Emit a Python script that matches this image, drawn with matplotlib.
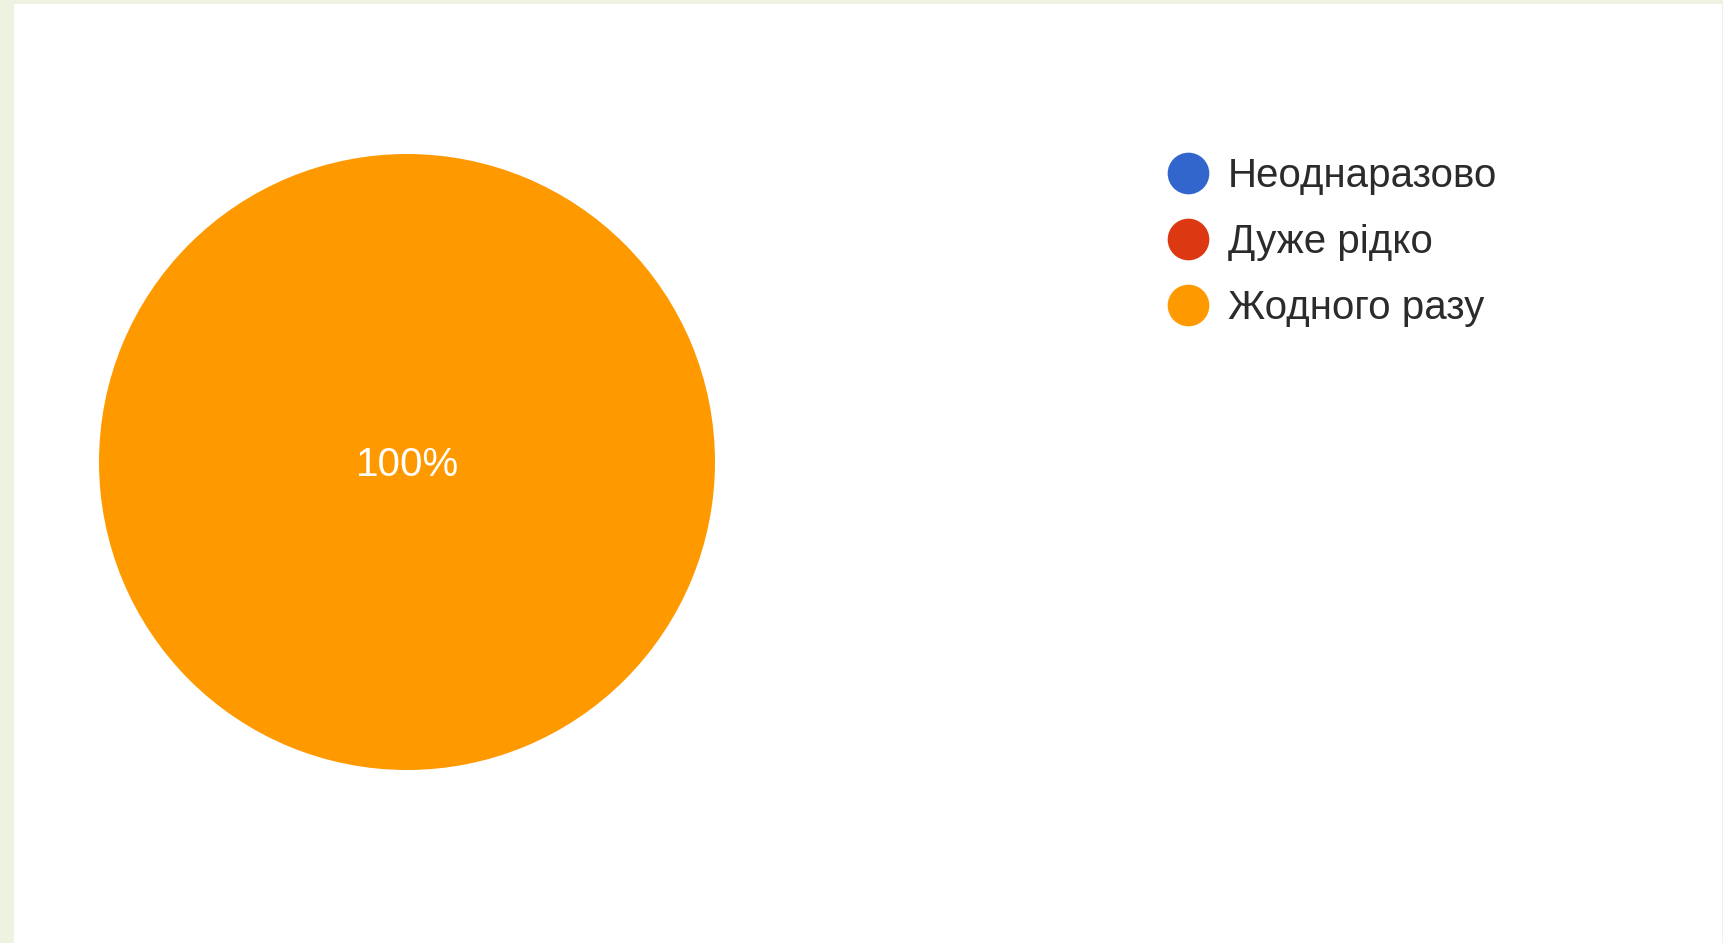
import matplotlib
matplotlib.use("Agg")
import matplotlib.pyplot as plt
from matplotlib.lines import Line2D
from matplotlib.patches import Rectangle

plt.rcParams["font.family"] = ["Liberation Sans", "DejaVu Sans"]

# data
labels = ["Неоднаразово", "Дуже рідко", "Жодного разу"]
values = [0, 0, 100]
colors = ["#3366cc", "#dc3912", "#ff9900"]

W, H, DPI = 1724, 943, 100
fig = plt.figure(figsize=(W / DPI, H / DPI), dpi=DPI, facecolor="#eef2e1")

# white slide panel
fig.patches.append(Rectangle((14 / W, 0), (1722 - 14) / W, (H - 4) / H,
                             transform=fig.transFigure, facecolor="white",
                             edgecolor="none", zorder=0))

# pie: centre (407, 462) px, radius 308 px
cx, cy, r = 407, 462, 308
ax = fig.add_axes([(cx - r) / W, (H - cy - r) / H, 2 * r / W, 2 * r / H])
ax.set_zorder(1)


def pct(p):
    return f"{p:.0f}%" if p > 0 else ""


wedges, _, autotexts = ax.pie(values, colors=colors, startangle=90, counterclock=False,
                              autopct=pct, pctdistance=0.0, radius=1.0,
                              wedgeprops=dict(linewidth=0))
for t in autotexts:
    t.set_color("white")
    t.set_fontsize(29)
    t.set_y(-0.01)
ax.set_xlim(-1, 1)
ax.set_ylim(-1, 1)
ax.set_aspect("equal")
ax.axis("off")

handles = [Line2D([], [], linestyle="none", marker="o", markersize=30,
                  markerfacecolor=c, markeredgecolor="none") for c in colors]
leg = fig.legend(handles, labels, loc="upper left",
                 bbox_to_anchor=(1168 / W, (H - 157) / H),
                 frameon=False, fontsize=29, labelcolor="#2b2b2b",
                 handlelength=1.0, handletextpad=0.49, labelspacing=0.70,
                 borderpad=0, borderaxespad=0)

fig.savefig("out.png", dpi=DPI, facecolor=fig.get_facecolor())
